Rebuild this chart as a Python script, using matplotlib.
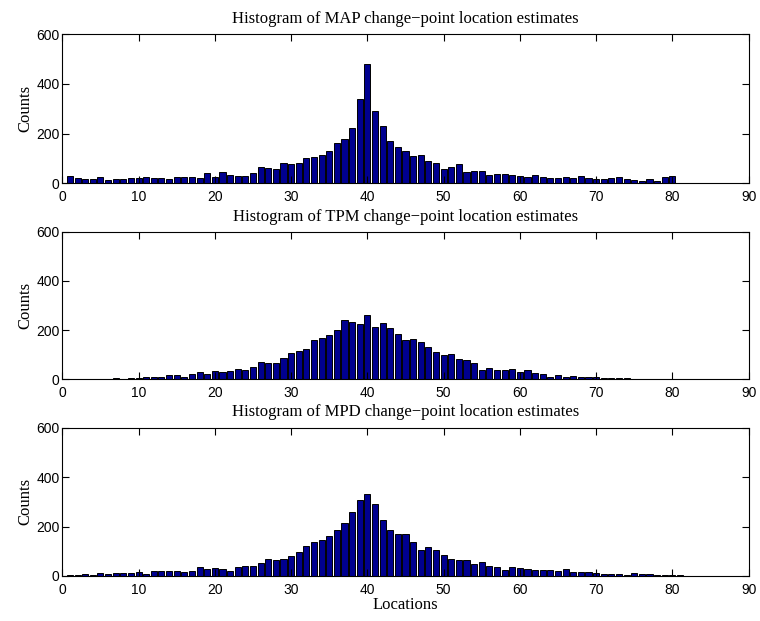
import numpy as np
import matplotlib
matplotlib.use("Agg")
import matplotlib.pyplot as plt

# change-point locations (histogram bins, one per integer location)
locations = np.arange(1, 90)

# counts
map_counts = [30, 21, 15, 15, 23, 11, 16, 17, 20, 20,
              24, 21, 21, 17, 23, 23, 25, 20, 42, 25,
              44, 31, 30, 27, 42, 64, 62, 56, 82, 79,
              83, 101, 106, 114, 129, 162, 176, 224, 337, 478,
              291, 231, 168, 145, 129, 110, 115, 91, 83, 58,
              67, 79, 46, 50, 50, 31, 39, 36, 32, 30,
              24, 34, 26, 20, 20, 24, 21, 27, 20, 17,
              15, 19, 23, 17, 11, 9, 18, 10, 26, 30,
              1, 1, 0, 0, 0, 0, 0, 0, 0]

tpm_counts = [1, 0, 1, 0, 1, 3, 4, 3, 4, 7,
              9, 9, 8, 16, 20, 9, 22, 30, 22, 34,
              30, 35, 43, 40, 52, 70, 67, 68, 86, 106,
              117, 123, 160, 168, 180, 200, 242, 232, 224, 260,
              213, 230, 209, 183, 160, 166, 153, 130, 111, 99,
              102, 81, 78, 68, 39, 48, 38, 39, 42, 31,
              39, 28, 24, 11, 17, 11, 14, 10, 9, 10,
              6, 6, 5, 5, 3, 2, 2, 1, 1, 1,
              1, 0, 0, 0, 0, 0, 0, 0, 0]

mpd_counts = [3, 2, 8, 5, 11, 9, 12, 12, 12, 15,
              9, 20, 20, 20, 21, 16, 20, 35, 27, 32,
              27, 19, 36, 39, 39, 52, 67, 63, 68, 81,
              98, 123, 136, 145, 160, 184, 216, 260, 306, 333,
              291, 228, 184, 168, 168, 138, 107, 117, 105, 83,
              68, 63, 63, 48, 58, 39, 35, 26, 35, 32,
              28, 24, 23, 24, 20, 30, 16, 16, 16, 12,
              7, 9, 9, 5, 12, 8, 8, 5, 3, 2,
              2, 1, 0, 0, 0, 0, 0, 0, 0]

methods = ["MAP", "TPM", "MPD"]
all_counts = [map_counts, tpm_counts, mpd_counts]

serif = "Liberation Serif"
sans = "Liberation Sans"

fig = plt.figure(figsize=(7.6, 6.21), dpi=100)

# axes boxes in figure fractions (left, bottom, width, height)
boxes = [[0.082, 0.705, 0.903, 0.240],
         [0.082, 0.389, 0.903, 0.238],
         [0.082, 0.0725, 0.903, 0.239]]

for i, (name, counts) in enumerate(zip(methods, all_counts)):
    ax = fig.add_axes(boxes[i])
    ax.bar(locations, counts, width=0.8, color="#00008f",
           edgecolor="black", linewidth=0.7)
    ax.set_xlim(0, 90)
    ax.set_ylim(0, 600)
    ax.set_xticks(range(0, 91, 10))
    ax.set_yticks([0, 200, 400, 600])
    ax.tick_params(direction="in", top=True, right=True, length=5,
                   width=0.8, labelsize=10)
    ax.tick_params(axis="x", pad=5)
    ax.tick_params(axis="y", pad=2)
    for lab in ax.get_xticklabels() + ax.get_yticklabels():
        lab.set_family(sans)
    for sp in ax.spines.values():
        sp.set_linewidth(0.8)
    ax.set_title(f"Histogram of {name} change\u2212point location estimates",
                 family=serif, fontsize=12, pad=8)
    ax.set_ylabel("Counts", family=serif, fontsize=12, labelpad=2)
    if i == 2:
        ax.set_xlabel("Locations", family=serif, fontsize=12, labelpad=0)

fig.savefig("out.png", dpi=100)
